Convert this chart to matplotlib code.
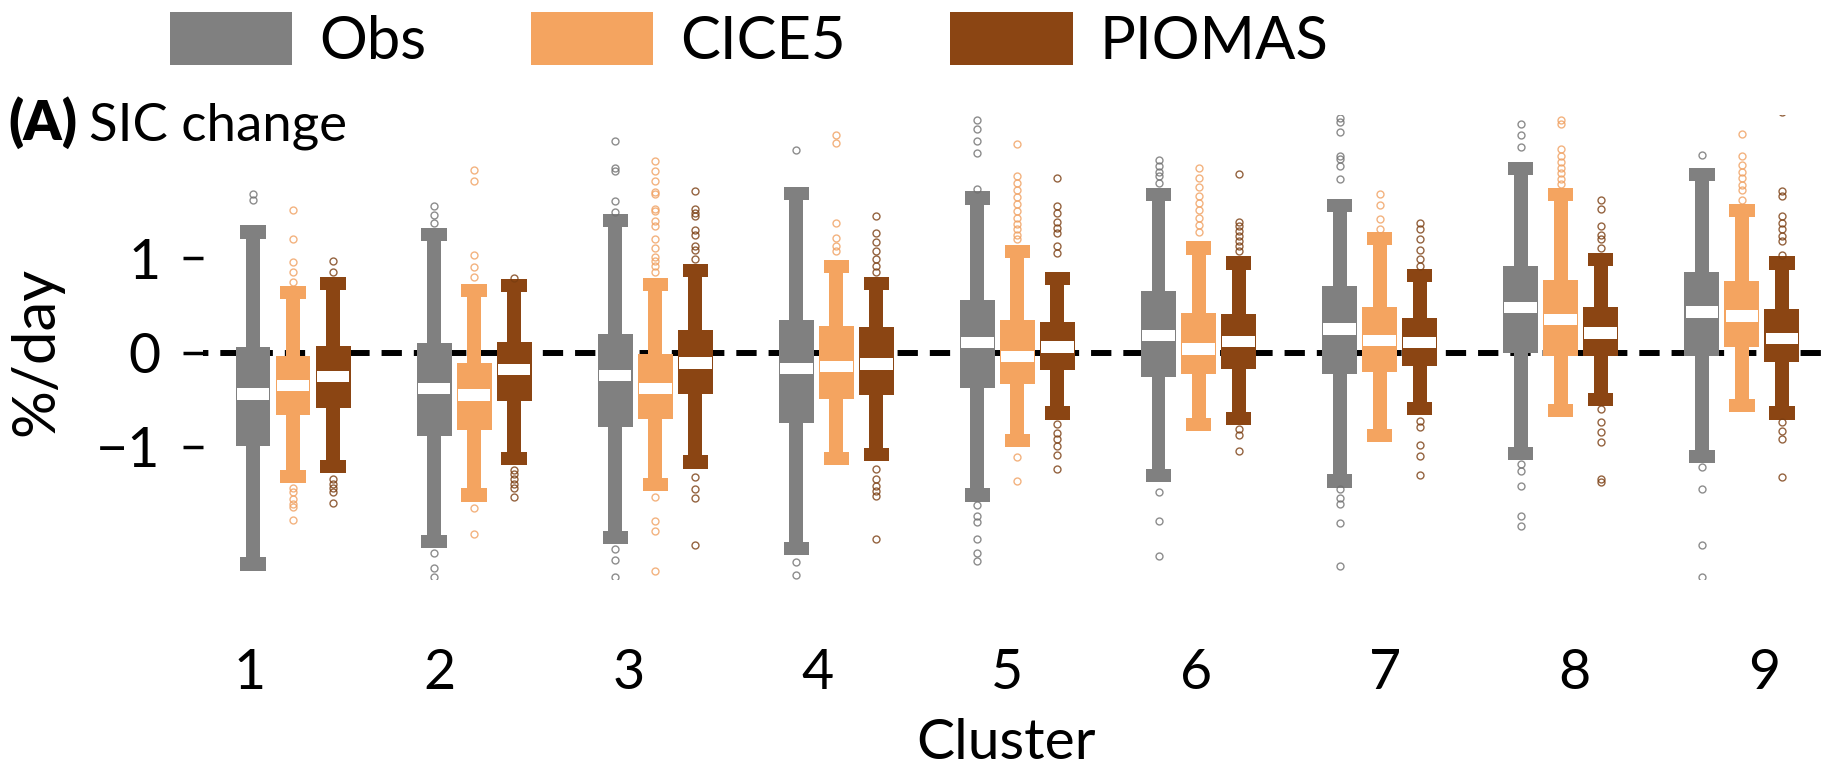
import matplotlib
matplotlib.use("Agg")
import matplotlib.pyplot as plt
from matplotlib.patches import Patch
import numpy as np

plt.rcParams['font.family'] = ['Lato', 'DejaVu Sans']

clusters = ['1', '2', '3', '4', '5', '6', '7', '8', '9']
series = ['Obs', 'CICE5', 'PIOMAS']
colors = ['#808080', '#F4A460', '#8B4513']
edge_colors = ['#707070', '#F0A060', '#7A3D10']

# whisker ends (outer edge of caps), quartiles, median  (%/day)
obs_lo = [-2.31, -2.07, -2.03, -2.15, -1.58, -1.37, -1.43, -1.14, -1.17]
obs_q1 = [-0.99, -0.88, -0.79, -0.75, -0.38, -0.26, -0.23, 0.00, -0.04]
obs_med = [-0.44, -0.38, -0.24, -0.17, 0.11, 0.18, 0.25, 0.48, 0.43]
obs_q3 = [0.06, 0.10, 0.20, 0.35, 0.56, 0.65, 0.71, 0.92, 0.86]
obs_hi = [1.35, 1.32, 1.47, 1.76, 1.71, 1.75, 1.63, 2.02, 1.96]

cice_lo = [-1.38, -1.58, -1.47, -1.19, -1.00, -0.83, -0.95, -0.68, -0.63]
cice_q1 = [-0.66, -0.82, -0.70, -0.49, -0.33, -0.23, -0.21, -0.04, 0.06]
cice_med = [-0.35, -0.45, -0.38, -0.15, -0.04, 0.04, 0.13, 0.35, 0.39]
cice_q3 = [-0.04, -0.11, -0.01, 0.28, 0.35, 0.42, 0.48, 0.77, 0.76]
cice_hi = [0.71, 0.73, 0.79, 0.98, 1.14, 1.18, 1.28, 1.75, 1.58]

pio_lo = [-1.28, -1.19, -1.23, -1.15, -0.71, -0.77, -0.66, -0.57, -0.71]
pio_q1 = [-0.59, -0.51, -0.44, -0.45, -0.18, -0.17, -0.14, -0.04, -0.10]
pio_med = [-0.25, -0.18, -0.11, -0.12, 0.06, 0.12, 0.11, 0.21, 0.15]
pio_q3 = [0.07, 0.11, 0.24, 0.27, 0.33, 0.41, 0.37, 0.48, 0.46]
pio_hi = [0.80, 0.78, 0.94, 0.80, 0.86, 1.02, 0.89, 1.06, 1.02]

obs_out = [
    [1.68, 1.62],
    [1.55, 1.46, 1.38, -2.12, -2.28, -2.38],
    [2.24, 1.96, 1.93, 1.61, 1.49, -2.08, -2.20, -2.38],
    [2.15, -2.22, -2.36],
    [2.47, 2.37, 2.24, 2.12, 1.74, -1.62, -1.73, -1.80, -1.98, -2.12, -2.21],
    [2.04, 1.98, 1.92, 1.87, 1.80, -1.48, -1.78, -2.16],
    [2.49, 2.45, 2.34, 2.08, 2.05, 1.98, 1.84, -1.45, -1.54, -1.61, -1.81, -2.26],
    [2.42, 2.31, 2.18, -1.18, -1.26, -1.41, -1.73, -1.84],
    [2.10, -1.21, -1.45, -2.04, -2.38],
]
cice_out = [
    [1.51, 1.20, 0.96, 0.86, 0.75, -1.43, -1.48, -1.55, -1.61, -1.64, -1.77],
    [1.94, 1.82, 1.04, 0.91, 0.80, -1.65, -1.92],
    [2.03, 1.93, 1.82, 1.70, 1.68, 1.52, 1.50, 1.40, 1.34, 1.20, 1.11, 1.01,
     0.97, 0.92, 0.86, -1.53, -1.79, -1.89, -2.32],
    [2.31, 2.22, 1.38, 1.22, 1.13, 1.08],
    [2.21, 1.87, 1.80, 1.72, 1.65, 1.58, 1.50, 1.43, 1.36, 1.31, 1.25, 1.20,
     -1.11, -1.36],
    [1.96, 1.85, 1.76, 1.66, 1.59, 1.51, 1.43, 1.35, 1.28],
    [1.68, 1.57, 1.42, 1.31],
    [2.47, 2.42, 2.16, 2.09, 2.02, 1.96, 1.91, 1.84, 1.79],
    [2.32, 2.08, 1.99, 1.92, 1.85, 1.78, 1.73, 1.62],
]
pio_out = [
    [0.97, 0.86, -1.34, -1.39, -1.43, -1.48, -1.59],
    [0.79, -1.24, -1.29, -1.34, -1.39, -1.43, -1.53],
    [1.71, 1.52, 1.48, 1.45, 1.30, 1.25, 1.13, 1.09, 0.99, -1.32, -1.45,
     -1.54, -2.04],
    [1.45, 1.27, 1.17, 1.08, 0.99, 0.92, 0.86, -1.23, -1.34, -1.41, -1.47,
     -1.52, -1.98],
    [1.85, 1.55, 1.48, 1.39, 1.32, 1.27, 1.13, 1.06, -0.76, -0.85, -0.92,
     -0.99, -1.08, -1.23],
    [1.89, 1.39, 1.34, 1.29, 1.24, 1.18, 1.13, 1.08, -0.81, -0.87, -1.04],
    [1.37, 1.31, 1.20, 1.09, 0.99, 0.92, -0.72, -0.79, -0.98, -1.10, -1.30],
    [1.62, 1.52, 1.34, 1.25, 1.20, 1.11, -0.60, -0.74, -0.84, -0.95, -1.34,
     -1.37],
    [2.55, 1.71, 1.66, 1.45, 1.38, 1.31, 1.24, 1.18, 1.04, -0.74, -0.83,
     -0.92, -1.32],
]

stats = [
    (obs_lo, obs_q1, obs_med, obs_q3, obs_hi, obs_out),
    (cice_lo, cice_q1, cice_med, cice_q3, cice_hi, cice_out),
    (pio_lo, pio_q1, pio_med, pio_q3, pio_hi, pio_out),
]

fig = plt.figure(figsize=(18.21, 7.76), dpi=100)
ax = fig.add_axes([203 / 1821, 1 - 579 / 776, 1 - 203 / 1821, (579 - 115) / 776])

box_w, cap_w, stem_w, med_w = 0.193, 0.14, 0.077, 0.18
cap_h, med_h = 0.14, 0.12
offsets = [-0.221, 0.0, 0.221]
base = np.arange(1, len(clusters) + 1)

ax.axhline(0, color='black', lw=4.3, linestyle=(2.5, (3.4, 2.0)), zorder=1)

for k, (lo, q1, med, q3, hi, out) in enumerate(stats):
    x = base + offsets[k]
    lo, q1, med, q3, hi = map(np.array, (lo, q1, med, q3, hi))
    c = colors[k]
    ax.bar(x, hi - lo, width=stem_w, bottom=lo, color=c, zorder=2)
    ax.bar(x, cap_h, width=cap_w, bottom=hi - cap_h, color=c, zorder=2)
    ax.bar(x, cap_h, width=cap_w, bottom=lo, color=c, zorder=2)
    ax.bar(x, q3 - q1, width=box_w, bottom=q1, color=c, zorder=3)
    ax.bar(x, med_h, width=med_w, bottom=med - med_h / 2, color='white', zorder=4)
    for xi, pts in zip(x, out):
        ax.plot([xi] * len(pts), pts, 'o', ms=5, mfc='none', mec=edge_colors[k],
                mew=1.0, alpha=0.8, zorder=2)

ax.set_xlim(0.503, 9.437)
ax.set_ylim(-2.40, 2.52)
for s in ax.spines.values():
    s.set_visible(False)

ax.set_yticks([-1, 0, 1])
ax.set_yticklabels(['\u22121', '0', '1'])
ax.tick_params(axis='y', length=14.5, width=2.5, pad=16, labelsize=40)
# tick labels sit slightly off the group positions in the original
ax.set_xticks(np.linspace(0.763, 9.122, len(clusters)))
ax.set_xticklabels(clusters)
ax.tick_params(axis='x', length=0, pad=50, labelsize=40)

ax.set_ylabel('%/day', fontsize=43)
ax.yaxis.set_label_coords(-0.086, 0.49)
ax.set_xlabel('Cluster', fontsize=41)
ax.xaxis.set_label_coords(0.496, -0.30)

handles = [Patch(facecolor=c, edgecolor='none', label=s) for s, c in zip(series, colors)]
fig.legend(handles=handles, loc='upper left', bbox_to_anchor=(170 / 1821, 1 - 12 / 776),
           ncol=3, frameon=False, fontsize=43, handlelength=2.05, handleheight=1.0,
           handletextpad=0.45, columnspacing=1.75, borderpad=0, borderaxespad=0)

t1 = fig.text(8 / 1821, 1 - 140 / 776, '(A)', fontsize=39, fontweight='heavy',
              va='baseline', ha='left')
fig.canvas.draw()
bb = t1.get_window_extent()
fig.text((bb.x1 + 12) / 1821, 1 - 140 / 776, 'SIC change', fontsize=38,
         va='baseline', ha='left')

fig.savefig('out.png', dpi=100)
